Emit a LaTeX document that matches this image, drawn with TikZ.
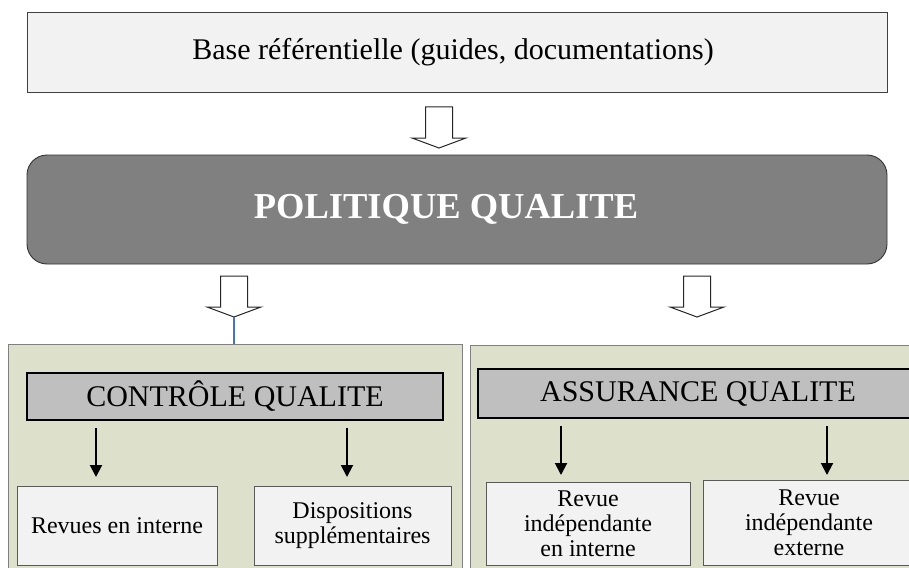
\documentclass[tikz,border=0pt]{standalone}
\usepackage{fontspec}
\setmainfont{Liberation Serif}
\usetikzlibrary{arrows.meta}
\definecolor{panelfill}{HTML}{DDE1CC}
\definecolor{leaffill}{HTML}{F2F2F2}
\definecolor{headfill}{HTML}{BFBFBF}
\definecolor{polfill}{HTML}{808080}
\definecolor{linkblue}{HTML}{4472C4}
\tikzset{
  topbox/.style={draw=black!75, line width=0.9pt, fill=leaffill, minimum width=860, minimum height=80, inner sep=0pt, font=\fontsize{30}{32}\selectfont},
  polbox/.style={draw=black!80, line width=0.9pt, fill=polfill, rounded corners=20, minimum width=860, minimum height=109, inner sep=0pt, text=white, font=\fontsize{36.5}{38}\selectfont\bfseries},
  panelbox/.style={draw=black!50, line width=0.9pt, fill=panelfill, inner sep=0pt},
  headbox/.style={draw=black, line width=2pt, fill=headfill, inner sep=0pt, font=\fontsize{30}{32}\selectfont},
  leafbox/.style={draw=black!65, line width=0.9pt, fill=leaffill, inner sep=0pt, align=center, font=\fontsize{24}{25}\selectfont},
  hollow/.style={draw=black!85, line width=1pt, fill=white, line join=miter},
  thinarrow/.style={draw=black, line width=2pt, -{Triangle[length=12pt,width=12pt]}},
}
\newcommand{\hollowarr}[3]{% name, x, ytop
  \draw[hollow] (#2-13.5,#3) -- (#2+13.5,#3) -- (#2+13.5,#3+31) -- (#2+27,#3+31)
    -- (#2,#3+41) -- (#2-27,#3+31) -- (#2-13.5,#3+31) -- cycle;
  \coordinate (#1) at (#2,#3+41);
}
\begin{document}
\begin{tikzpicture}[x=1pt,y=-1pt]
\useasboundingbox (0,0) rectangle (909,567);
\clip (0,0) rectangle (909,567);
\fill[white] (0,0) rectangle (909,567);
% top
\node[topbox] (base) at (457,52.5) {};
\node (basetxt) at ([xshift=-4]base.center) [font=\fontsize{30}{32}\selectfont] {Base référentielle (guides, documentations)};
\node[polbox] (pol) at (457,209.5) {};
\node (poltxt) at ([xshift=-11]pol.center) [text=white, font=\fontsize{36.5}{38}\selectfont\bfseries] {POLITIQUE QUALITE};
\hollowarr{tip1}{439}{107}
\hollowarr{tip2}{234}{276}
\hollowarr{tip3}{697}{276}
% panels
\node[panelbox, minimum width=454, minimum height=240] (lpanel) at (235,464) {};
\node[panelbox, minimum width=445, minimum height=240] (rpanel) at (692.5,465) {};
\draw[linkblue, line width=1.2pt] (tip2) -- (tip2 |- lpanel.north);
% headers
\node[headbox, minimum width=416, minimum height=47] (ctrl) at (235,396.5) {CONTRÔLE QUALITE};
\node[headbox, minimum width=440, minimum height=49] (assu) at (698,393.5) {ASSURANCE QUALITE};
% leaves
\node[leafbox, minimum width=200, minimum height=79] (l1) at (117,525.5) {Revues en interne};
\node[leafbox, minimum width=197, minimum height=79] (l2) at (352.5,525.5) {Dispositions\\supplémentaires};
\node[leafbox, minimum width=204, minimum height=83] (r1) at (588,523.5) {Revue\\indépendante\\en interne};
\node[leafbox, minimum width=212, minimum height=85] (r2) at (809,522.5) {Revue\\indépendante\\externe};
% arrows
\coordinate (c1) at (96,428);
\coordinate (c2) at (347,428);
\coordinate (c3) at (561,426);
\coordinate (c4) at (827,426);
\draw[thinarrow] (c1) -- (c1 |- 0,477);
\draw[thinarrow] (c2) -- (c2 |- 0,477);
\draw[thinarrow] (c3) -- (c3 |- 0,475);
\draw[thinarrow] (c4) -- (c4 |- 0,475);
\end{tikzpicture}
\end{document}
